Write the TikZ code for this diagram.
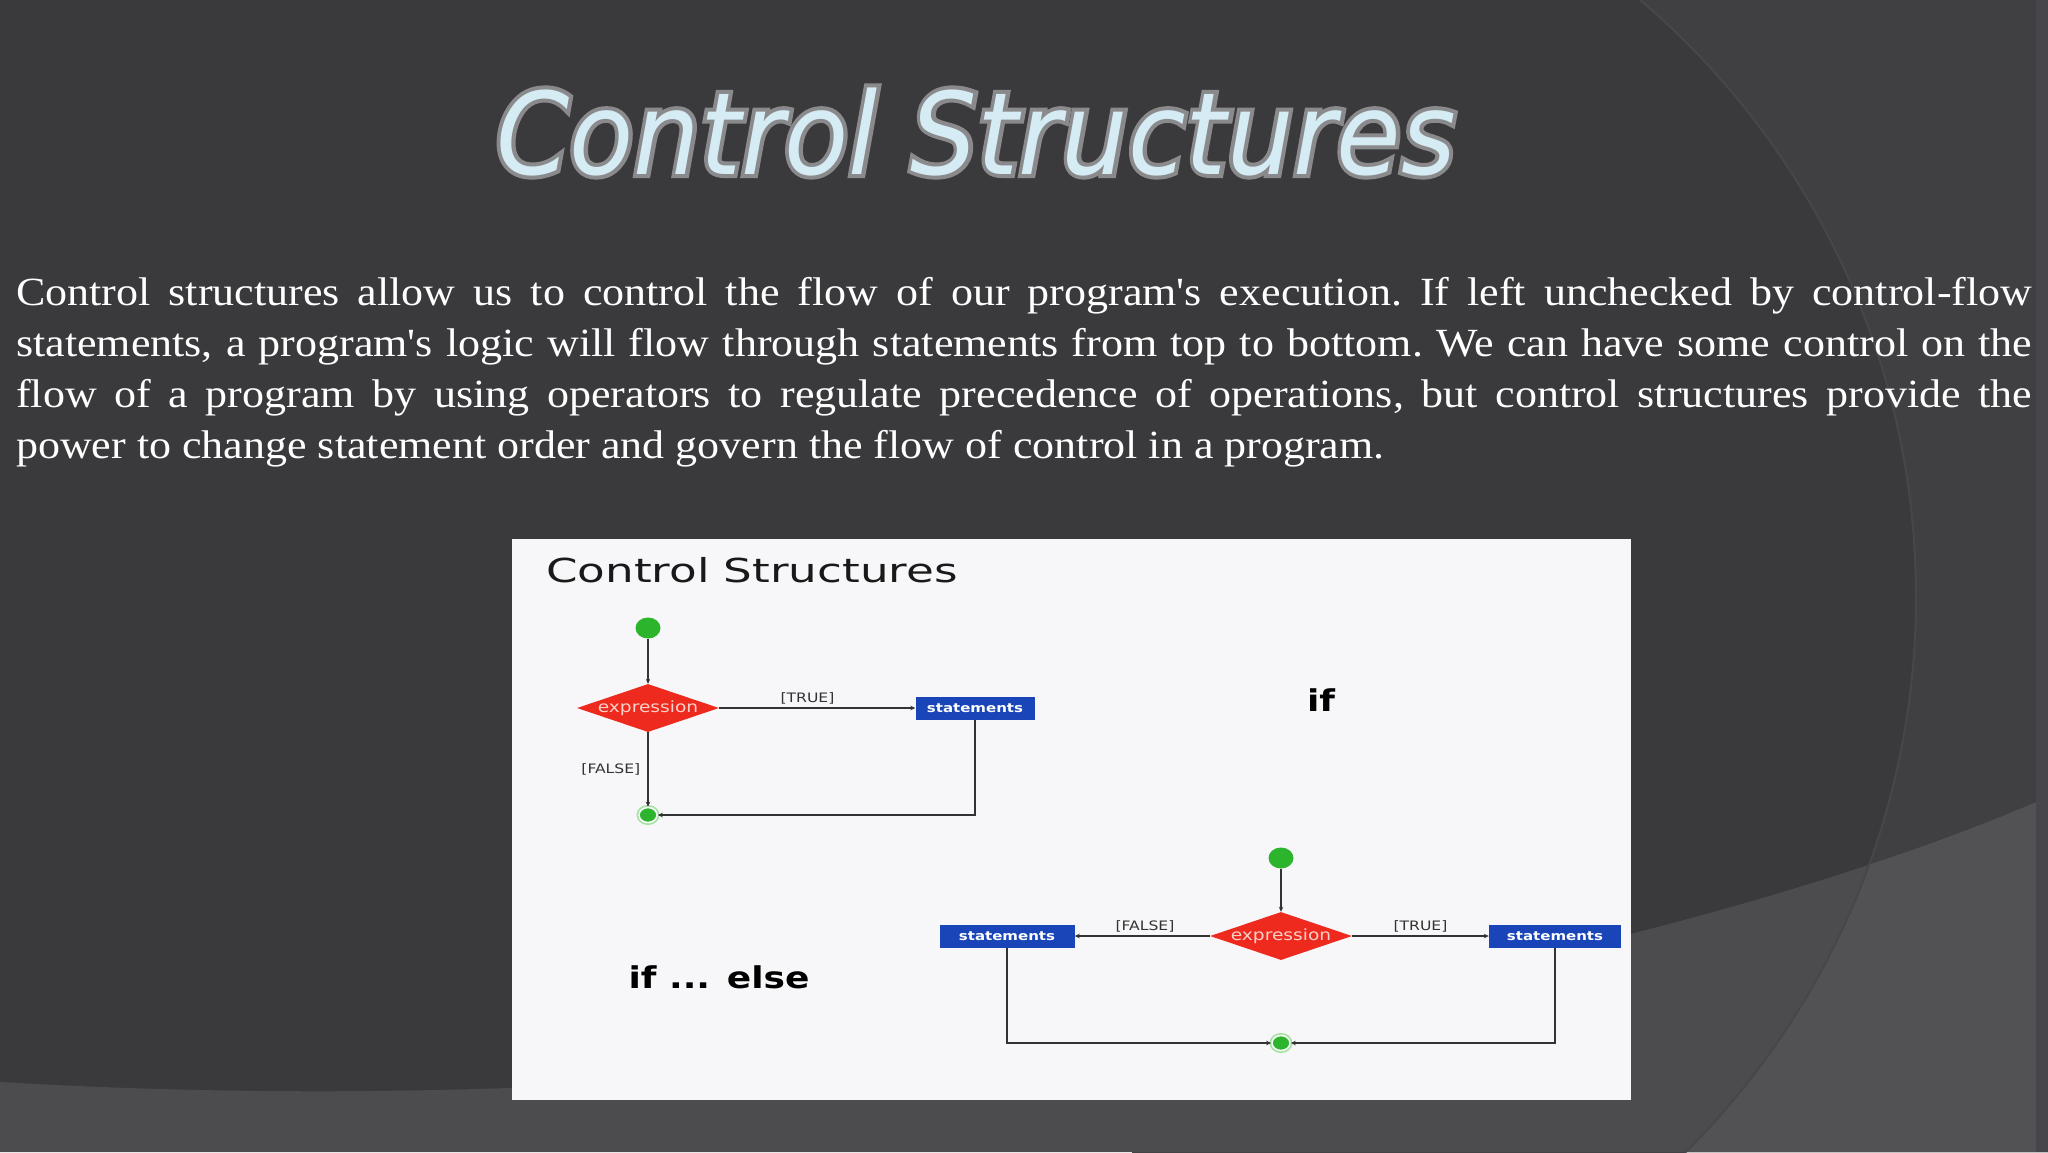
\documentclass[tikz,border=0pt]{standalone}
\usepackage{fontspec}
\usetikzlibrary{shapes.geometric,arrows.meta}
\newfontfamily\dgfont[FakeStretch=1.2]{DejaVu Sans}
\newfontfamily\dgtfont[FakeStretch=1.37]{DejaVu Sans}
\newfontfamily\parafont[FakeStretch=1.1]{Liberation Serif}
\newfontfamily\ttlfont[FakeStretch=0.92]{DejaVu Sans Oblique}
\newfontfamily\ttlbold[FakeStretch=0.92,FakeBold=7]{DejaVu Sans Oblique}
\definecolor{bgdark}{HTML}{3A393B}
\definecolor{bgright}{HTML}{403F41}
\definecolor{band}{HTML}{4C4B4D}
\definecolor{bandright}{HTML}{525153}
\definecolor{arcline}{HTML}{47464A}
\definecolor{panel}{HTML}{F7F7F9}
\definecolor{dgred}{HTML}{EE2A1E}
\definecolor{dgblue}{HTML}{1A45B8}
\definecolor{dggreen}{HTML}{2CB52C}
\definecolor{dglight}{HTML}{A6E3A0}
\definecolor{exprtext}{HTML}{F8D2CB}
\definecolor{lineclr}{HTML}{333333}
\definecolor{ttlfill}{HTML}{D6ECF4}
\definecolor{ttledge}{HTML}{8A8A8C}
\begin{document}
\begin{tikzpicture}[x=1pt,y=-1pt,
  decision/.style={diamond, fill=dgred, minimum width=142pt, minimum height=48pt, inner sep=0pt},
  exprlbl/.style={font=\dgfont\fontsize{15.5}{17}\selectfont, text=exprtext, inner sep=0pt},
  stbox/.style={rectangle, fill=dgblue, text=white, font=\dgfont\bfseries\fontsize{12.5}{14}\selectfont, inner sep=0pt, minimum height=23pt},
  startnode/.style={ellipse, fill=dggreen, minimum width=25pt, minimum height=21pt, inner sep=0pt},
  endnode/.style={ellipse, fill=dggreen, draw=panel, line width=1.6pt, minimum width=18pt, minimum height=15pt, inner sep=0pt,
    preaction={draw=dglight, line width=5pt}},
  conn/.style={draw=lineclr, line width=1.5pt, -{Stealth[length=5pt,width=4.5pt]}},
  edgelbl/.style={font=\dgfont\fontsize{13}{15}\selectfont, text=black!80, inner sep=1pt},
  biglbl/.style={font=\dgfont\bfseries\fontsize{30}{34}\selectfont, text=black, inner sep=0pt}
]
\useasboundingbox (0,0) rectangle (2048,1152);
% background
\fill[bgdark] (0,0) rectangle (2048,1152);
\begin{scope}
  \clip (1132,0) rectangle (2048,1152);
  \fill[bgright, even odd rule] (0,0) rectangle (2048,1152) (1132,597) circle (784pt);
\end{scope}
\fill[band] (0,1082) .. controls (900,1135) and (1700,950) .. (2048,797) -- (2048,1152) -- (0,1152) -- cycle;
\begin{scope}
  \clip (0,1082) .. controls (900,1135) and (1700,950) .. (2048,797) -- (2048,1152) -- (0,1152) -- cycle;
  \clip (1132,0) rectangle (2048,1152);
  \fill[bandright, even odd rule] (0,0) rectangle (2048,1152) (1132,597) circle (784pt);
\end{scope}
\begin{scope}
  \clip (1132,0) rectangle (2048,1152);
  \draw[arcline, line width=2pt] (1132,597) circle (784pt);
\end{scope}
\fill[arcline] (2036,0) rectangle (2048,1152);

% title with outline
\node[font=\ttlbold\fontsize{114}{120}\selectfont, text=ttledge, inner sep=0pt, anchor=base] (titleedge) at (976,174) {Control Structures};
\node[font=\ttlfont\fontsize{114}{120}\selectfont, text=ttlfill, inner sep=0pt, anchor=base] (title) at (976,174) {Control Structures};

% paragraph
\node[anchor=north west, text width=2016pt, align=justify, inner sep=0pt, text=white,
      font=\parafont\fontsize{40}{51}\selectfont] (para) at (16,277)
{\frenchspacing\hyphenpenalty=10000\tolerance=10000
Control structures allow us to control the flow of our program's execution. If left unchecked by control-flow\linebreak
statements, a program's logic will flow through statements from top to bottom. We can have some control on the\linebreak
flow of a program by using operators to regulate precedence of operations, but control structures provide the\linebreak
power to change statement order and govern the flow of control in a program.};

% white panel
\fill[panel] (512,539) rectangle (1631,1100);
\node[anchor=base west, font=\dgtfont\fontsize{33}{36}\selectfont, text=black!90, inner sep=0pt] (dtitle) at (546,582) {Control Structures};

% if diagram
\node[startnode] (s1) at (648,628) {};
\node[decision] (d1) at (648,708) {};
\node[exprlbl] (d1t) at (648,708) {expression};
\node[stbox, minimum width=119pt] (st1) at (975,708) {statements};
\node[endnode] (e1) at (648,815) {};
\draw[conn] (s1) -- (d1.north);
\draw[conn] (d1.east) -- (st1.west) node[edgelbl, pos=0.45, above=2pt] (l1) {[TRUE]};
\draw[conn] (d1.south) -- (e1.north) node[edgelbl, midway, left=6pt] (l2) {[FALSE]};
\draw[conn] (st1.south) |- (e1.east);
\node[biglbl] (iflbl) at (1321,700) {if};

% if ... else diagram
\node[startnode] (s2) at (1281,858) {};
\node[decision] (d2) at (1281,936) {};
\node[exprlbl] (d2t) at (1281,936) {expression};
\node[stbox, minimum width=135pt] (st2) at (1007,936) {statements};
\node[stbox, minimum width=132pt] (st3) at (1555,936) {statements};
\node[endnode] (e2) at (1281,1043) {};
\draw[conn] (s2) -- (d2.north);
\draw[conn] (d2.west) -- (st2.east) node[edgelbl, pos=0.48, above=2pt] (l3) {[FALSE]};
\draw[conn] (d2.east) -- (st3.west) node[edgelbl, pos=0.5, above=2pt] (l4) {[TRUE]};
\draw[conn] (st2.south) |- (e2.west);
\draw[conn] (st3.south) |- (e2.east);
\node[biglbl] (elselbl) at (719,977) {if ... else};
\end{tikzpicture}
\end{document}
